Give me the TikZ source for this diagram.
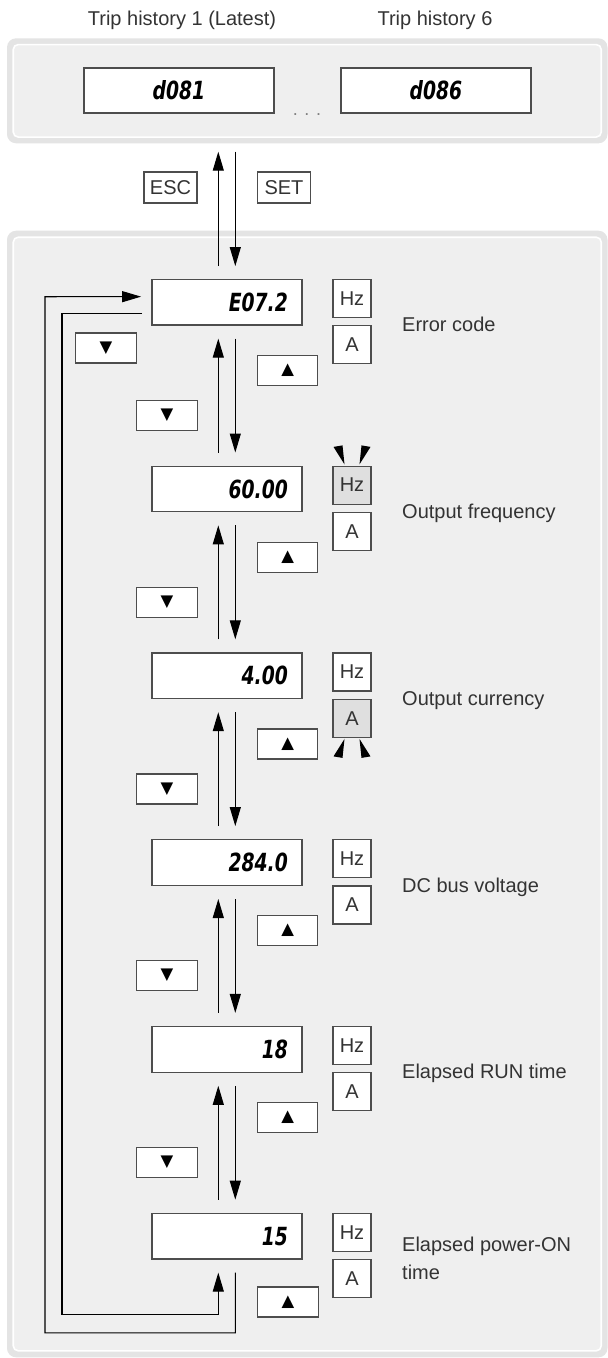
\documentclass[tikz,border=0pt]{standalone}
\usepackage{fontspec}
\setmainfont{Liberation Sans}
\newfontfamily\segfont[FakeStretch=0.75]{DejaVu Sans}
\newfontfamily\symfont{DejaVu Sans}
\usetikzlibrary{arrows.meta}
\definecolor{panelfill}{HTML}{EFEFEF}
\definecolor{panelband}{HTML}{E4E4E4}
\definecolor{boxline}{HTML}{4D4D4D}
\definecolor{txt}{HTML}{333333}
\definecolor{litfill}{HTML}{DFDFDF}
\newcommand\KeyUp{{\symfont\fontsize{16.5}{16.5}\selectfont ▲}}
\newcommand\KeyDown{{\symfont\fontsize{16.5}{16.5}\selectfont ▼}}
\tikzset{
  bandbox/.style={fill=panelband, rounded corners=9pt, inner sep=0pt, outer sep=0pt},
  innerbox/.style={draw=white, line width=1.6pt, fill=panelfill, rounded corners=5pt, inner sep=0pt},
  disp/.style={draw=boxline, line width=1.2pt, fill=white, minimum width=150pt, minimum height=45.7pt, inner sep=0pt},
  hdisp/.style={disp, minimum width=190pt, minimum height=45pt},
  unit/.style={draw=boxline, line width=1.2pt, fill=white, minimum width=38pt, minimum height=38pt, inner sep=0pt},
  lit/.style={unit, fill=litfill},
  keybox/.style={draw=boxline, line width=1.2pt, fill=white, minimum width=60.5pt, minimum height=30pt, inner sep=0pt, text=black},
  cmdkey/.style={keybox, minimum width=53pt, minimum height=31pt, text=txt},
  readout/.style={font=\segfont\bfseries\itshape\fontsize{25}{30}\selectfont, text=black, inner sep=0pt},
  desc/.style={anchor=base west, inner sep=0pt},
  arr/.style={line width=1.1pt, draw=black, -{Triangle[length=19pt,width=11pt]}},
  flash/.style={fill=black},
}
\begin{document}
\begin{tikzpicture}[x=1pt, y=-1pt, font=\fontsize{20}{24}\selectfont, text=txt]
\useasboundingbox (0,0) rectangle (608,1358);

% panels
\node[bandbox, minimum width=600.5pt, minimum height=105pt] (hist) at (307.25,90.8) {};
\node[innerbox, minimum width=588pt, minimum height=92.5pt] (histin) at (hist) {};
\node[bandbox, minimum width=600.5pt, minimum height=1126.6pt] (main) at (307.25,794) {};
\node[innerbox, minimum width=588pt, minimum height=1113.6pt] (mainin) at (main) {};

% trip history
\node[anchor=base, inner sep=0pt] (t1) at (182,25) {Trip history 1 (Latest)};
\node[anchor=base, inner sep=0pt] (t6) at (435,25) {Trip history 6};
\node[hdisp] (h1) at (179,90.5) {};
\node[readout] (h1v) at (h1) {d081};
\node[hdisp] (h6) at (436,90.5) {};
\node[readout] (h6v) at (h6) {d086};
\node[anchor=base, inner sep=0pt, font=\fontsize{18}{20}\selectfont, text=gray] (dots) at (307,115.5) {. . .};

% levels
\foreach \i/\val/\hzs/\as in {0/E07.2/unit/unit, 1/60.00/lit/unit, 2/4.00/unit/lit, 3/284.0/unit/unit, 4/18/unit/unit, 5/15/unit/unit}{
  \pgfmathsetmacro\T{279.3+186.8*\i}
  \node[disp] (b\i) at (227,\T+22.85) {};
  \node[readout, anchor=east] (v\i) at ([xshift=-14.5pt]b\i.east) {\val};
  \node[\hzs] (hz\i) at (352,\T+19) {Hz};
  \node[\as] (a\i) at (352,\T+65.3) {A};
}
\foreach \i/\lab in {0/Error code, 1/Output frequency, 2/Output currency, 3/DC bus voltage, 4/Elapsed RUN time}{
  \node[desc] (l\i) at (402,279.3+186.8*\i+52.4) {\lab};
}
\node[anchor=west, inner sep=0pt, align=left, font=\fontsize{20}{28.3}\selectfont] (l5) at (402,1258.55) {Elapsed power-ON\\time};

% keys
\foreach \i in {0,...,4}{
  \pgfmathsetmacro\T{279.3+186.8*\i}
  \node[keybox] (ku\i) at (287.6,\T+91) {\KeyUp};
  \node[keybox] (kd\i) at (167,\T+136) {\KeyDown};
}
\node[keybox] (kw) at (106,348) {\KeyDown};
\node[keybox] (ku5) at (288,1302) {\KeyUp};
\node[cmdkey] (esc) at (170.5,187.5) {ESC};
\node[cmdkey] (set) at (284,187.5) {SET};

% ESC / SET
\draw[arr, shorten >=8.4pt] ([xshift=-8.7pt,yshift=12.6pt]b0.north) -- ([xshift=-8.7pt]b0.north |- hist.south);
\draw[arr, shorten <=8.4pt] ([xshift=8.3pt]b0.north |- hist.south) -- ([xshift=8.3pt,yshift=12.6pt]b0.north);

% up / down between levels
\foreach \i in {0,...,4}{
  \pgfmathtruncatemacro\j{\i+1}
  \draw[arr] ([xshift=-8.7pt,yshift=13pt]b\j.north) -- ([xshift=-8.7pt,yshift=-13pt]b\i.south);
  \draw[arr] ([xshift=8.3pt,yshift=-13pt]b\i.south) -- ([xshift=8.3pt,yshift=13pt]b\j.north);
}

% wrap-around loops
\draw[arr] ([xshift=8.3pt,yshift=-13pt]b5.south) -- ++(0,60.3) -| (45,296.7) -- ([xshift=-10.3pt,yshift=5.5pt]b0.west);
\draw[arr] ([xshift=-9.3pt,yshift=-11pt]b0.west) -| (62,1314.3) -| ([xshift=-8.7pt,yshift=-13pt]b5.south);

% flashing marks
\fill[flash, shift={(hz1.north)}] (-18.5,-18.6) -- (-9.5,-20.1) -- (-7.5,-1.1) -- cycle;
\fill[flash, shift={(hz1.north)}] (18.5,-18.6) -- (9.5,-20.1) -- (7.5,-1.1) -- cycle;
\fill[flash, shift={(a2.south)}] (-18.5,18.6) -- (-9.5,20.1) -- (-7.5,1.1) -- cycle;
\fill[flash, shift={(a2.south)}] (18.5,18.6) -- (9.5,20.1) -- (7.5,1.1) -- cycle;
\end{tikzpicture}
\end{document}
